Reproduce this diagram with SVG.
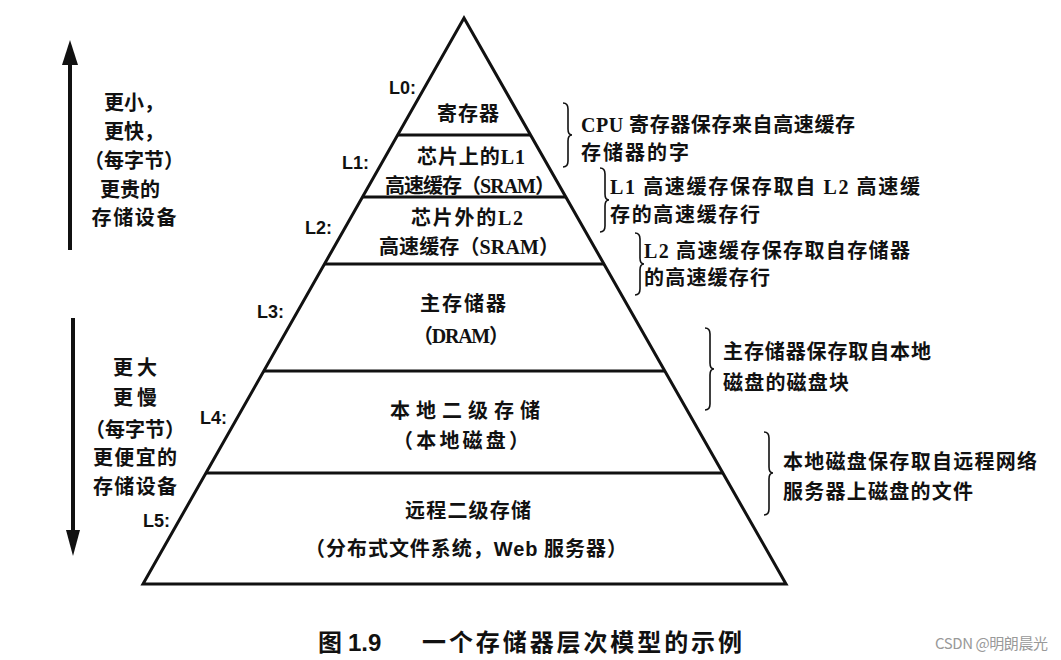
<svg xmlns="http://www.w3.org/2000/svg" width="1061" height="660" viewBox="0 0 1061 660">
<style>
.cn{font-family:"Noto Sans CJK SC","Liberation Sans",sans-serif;font-size:20px;font-weight:bold;fill:#111}
.c{text-anchor:middle}
.lat{font-family:"Liberation Serif",serif;font-weight:bold}
.lab{font-family:"Liberation Sans",Arial,sans-serif;font-size:18px;font-weight:bold;fill:#111}
.ln{stroke:#111;stroke-width:3;fill:none}
.br{stroke:#111;stroke-width:1.6;fill:none}
.cap{font-family:"Noto Sans CJK SC","Liberation Sans",sans-serif;font-size:24px;font-weight:bold;fill:#111}
.wm{font-family:"Noto Sans CJK SC","Liberation Sans",sans-serif;font-size:15px;fill:#999}
</style>
<rect width="1061" height="660" fill="#fff"/>
<g id="pyramid">
<polygon class="ln" points="464,18 786,584 143,584" stroke-linejoin="miter"/>
</g>
<g id="L0">
<text class="lab" x="389" y="94">L0:</text>
<text class="cn c" x="468" y="121" textLength="62">寄存器</text>
<line class="ln" x1="397" y1="135" x2="531" y2="135"/>
</g>
<g id="L1">
<text class="lab" x="342" y="169">L1:</text>
<text class="cn" x="417" y="164" textLength="108">芯片上的<tspan class="lat">L1</tspan></text>
<text class="cn" x="385" y="193" textLength="170">高速缓存（<tspan class="lat">SRAM</tspan>）</text>
<line class="ln" x1="362" y1="197" x2="566" y2="197"/>
</g>
<g id="L2">
<text class="lab" x="305" y="234">L2:</text>
<text class="cn" x="411" y="225" textLength="112">芯片外的<tspan class="lat">L2</tspan></text>
<text class="cn" x="379" y="254" textLength="180">高速缓存（<tspan class="lat">SRAM</tspan>）</text>
<line class="ln" x1="324" y1="264" x2="604" y2="264"/>
</g>
<g id="L3">
<text class="lab" x="257" y="318">L3:</text>
<text class="cn c" x="463" y="311" textLength="86">主存储器</text>
<text class="cn" x="413" y="343" textLength="96">（<tspan class="lat">DRAM</tspan>）</text>
<line class="ln" x1="263" y1="371" x2="665" y2="371"/>
</g>
<g id="L4">
<text class="lab" x="200" y="424">L4:</text>
<text class="cn" x="390" y="418" textLength="150">本地二级存储</text>
<text class="cn" x="393" y="448" textLength="136">（本地磁盘）</text>
<line class="ln" x1="206" y1="473" x2="723" y2="473"/>
</g>
<g id="L5">
<text class="lab" x="143" y="527">L5:</text>
<text class="cn" x="405" y="518" textLength="126">远程二级存储</text>
<text class="cn" x="305" y="556" textLength="322">（分布式文件系统，<tspan font-family="Liberation Sans">Web</tspan> 服务器）</text>
</g>
<g id="side-top">
<text class="cn c" x="134" y="110">更小，</text>
<text class="cn c" x="134" y="139">更快，</text>
<text class="cn c" x="134" y="168">（每字节）</text>
<text class="cn c" x="130" y="197">更贵的</text>
<text class="cn c" x="134" y="225" textLength="85">存储设备</text>
</g>
<g id="side-bottom">
<text class="cn c" x="135" y="375" textLength="44">更大</text>
<text class="cn c" x="135" y="405" textLength="44">更慢</text>
<text class="cn c" x="135" y="437">（每字节）</text>
<text class="cn c" x="135" y="465" textLength="84">更便宜的</text>
<text class="cn c" x="135" y="494" textLength="84">存储设备</text>
</g>
<g id="notes">
<text class="cn" x="581" y="132" textLength="274"><tspan class="lat">CPU</tspan> 寄存器保存来自高速缓存</text>
<text class="cn" x="581" y="160" textLength="108">存储器的字</text>
<text class="cn" x="610" y="194" textLength="310"><tspan class="lat">L1</tspan> 高速缓存保存取自 <tspan class="lat">L2</tspan> 高速缓</text>
<text class="cn" x="610" y="222" textLength="150">存的高速缓存行</text>
<text class="cn" x="644" y="258" textLength="266"><tspan class="lat">L2</tspan> 高速缓存保存取自存储器</text>
<text class="cn" x="644" y="285" textLength="126">的高速缓存行</text>
<text class="cn" x="723" y="359" textLength="208">主存储器保存取自本地</text>
<text class="cn" x="723" y="390" textLength="126">磁盘的磁盘块</text>
<text class="cn" x="783" y="469" textLength="254">本地磁盘保存取自远程网络</text>
<text class="cn" x="783" y="499" textLength="190">服务器上磁盘的文件</text>
</g>
<g id="connectors">
<path class="br" d="M563,103 Q568,103 568,109 L568,129 Q568,135 572,135 Q568,135 568,141 L568,161 Q568,167 563,167"/>
<path class="br" d="M600,168 Q605,168 605,174 L605,194 Q605,200 609,200 Q605,200 605,206 L605,226 Q605,232 600,232"/>
<path class="br" d="M635,233 Q640,233 640,239 L640,258 Q640,264 644,264 Q640,264 640,270 L640,289 Q640,295 635,295"/>
<path class="br" d="M705,328 Q710,328 710,334 L710,363 Q710,369 714,369 Q710,369 710,375 L710,404 Q710,410 705,410"/>
<path class="br" d="M764,432 Q769,432 769,438 L769,467 Q769,473 773,473 Q769,473 769,479 L769,509 Q769,515 764,515"/>
<line x1="70" y1="250" x2="70" y2="60" stroke="#111" stroke-width="4"/>
<polygon points="70,40 62,65 78,65" fill="#111"/>
<line x1="73" y1="318" x2="73" y2="535" stroke="#111" stroke-width="4"/>
<polygon points="73,556 66,530 80,530" fill="#111"/>
</g>
<g id="caption">
<text class="cap" x="318" y="651"><tspan>图</tspan><tspan font-family="Liberation Sans" dx="6">1.9</tspan></text>
<text class="cap" x="422" y="651" textLength="320">一个存储器层次模型的示例</text>
<text class="wm" x="935" y="649" textLength="113">CSDN @明朗晨光</text>
</g>
</svg>
